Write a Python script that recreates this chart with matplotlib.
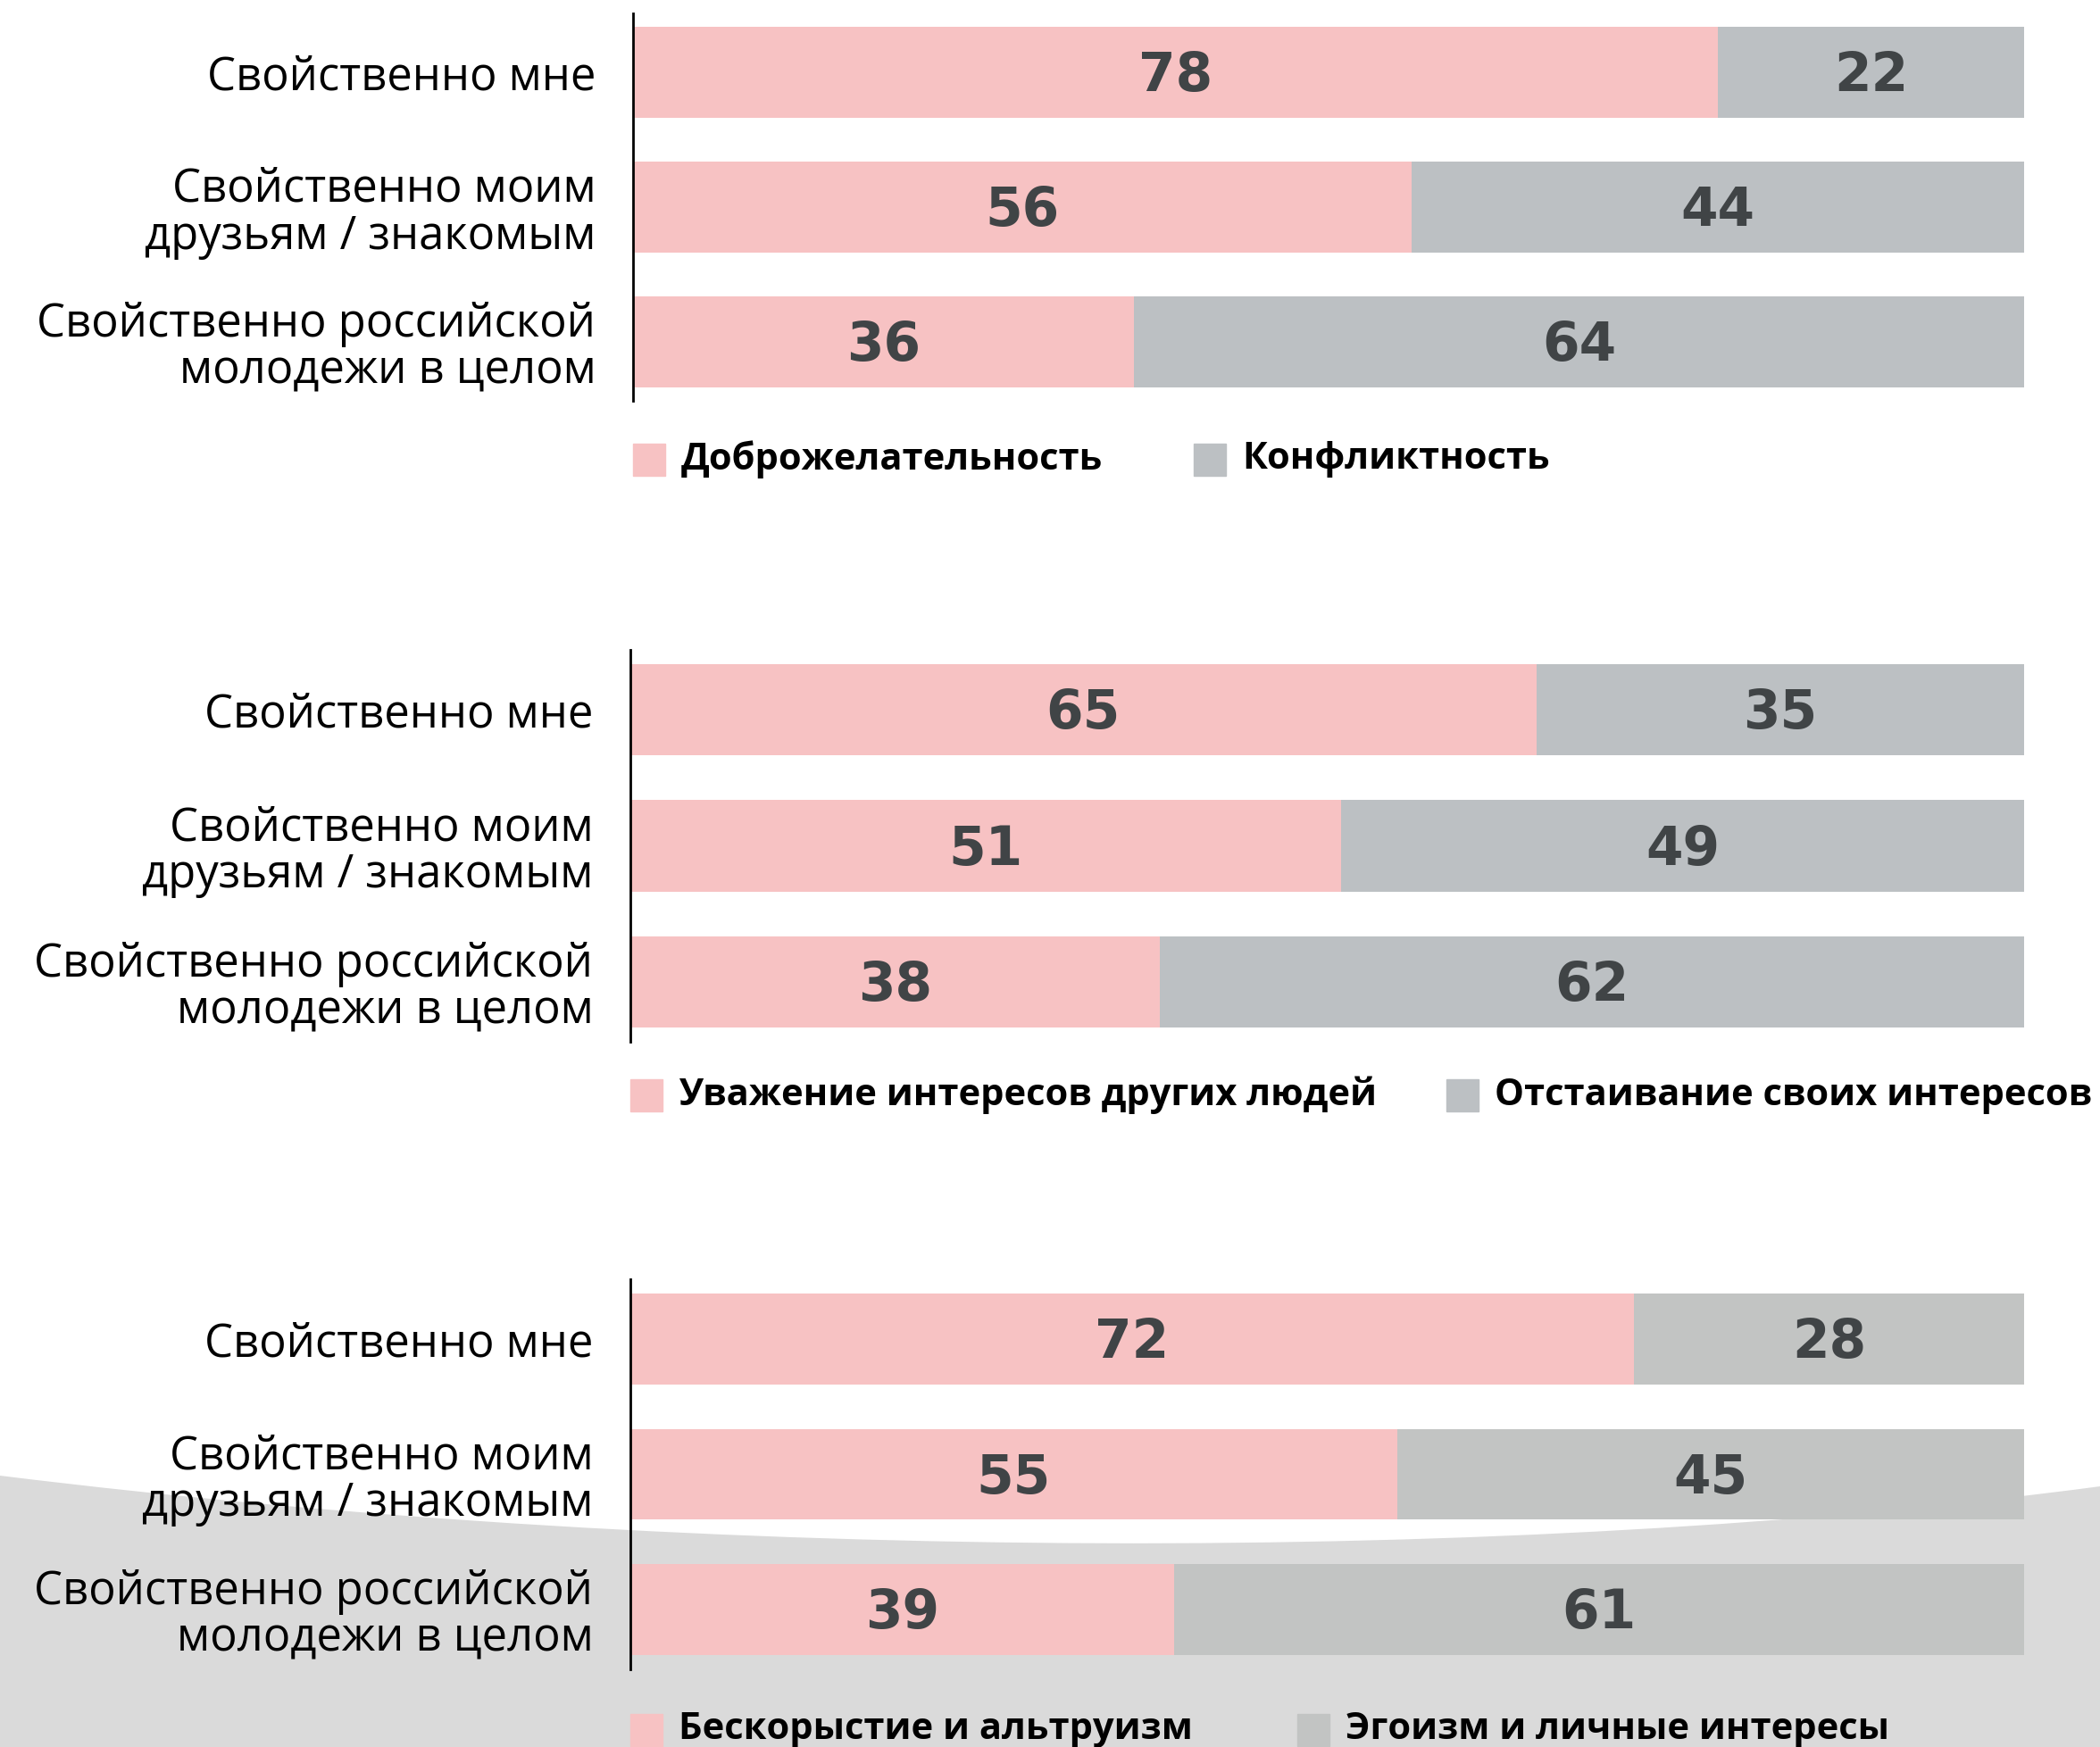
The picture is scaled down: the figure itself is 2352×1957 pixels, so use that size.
import matplotlib.pyplot as plt
from matplotlib.patches import Rectangle, PathPatch
from matplotlib.path import Path

# данные
categories = ["Свойственно мне", "Свойственно моим\nдрузьям / знакомым",
              "Свойственно российской\nмолодежи в целом"]
kind_vals = [78, 56, 36]
conflict_vals = [22, 44, 64]
respect_vals = [65, 51, 38]
own_vals = [35, 49, 62]
altruism_vals = [72, 55, 39]
egoism_vals = [28, 45, 61]

legend1 = ["Доброжелательность", "Конфликтность"]
legend2 = ["Уважение интересов других людей", "Отстаивание своих интересов"]
legend3 = ["Бескорыстие и альтруизм", "Эгоизм и личные интересы"]

pink = "#f7c2c3"
grey_top = "#bcc0c3"
grey_bot = "#c2c4c3"
num_color = "#404446"

W, H = 2352, 1957
fig = plt.figure(figsize=(W / 100, H / 100), dpi=100)

# фоновая дуга снизу (на отдельной оси позади всего)
bg = fig.add_axes([0, 0, 1, 1], zorder=-1)
bg.set_xlim(0, W)
bg.set_ylim(H, 0)
bg.axis("off")
verts = [(0, 1653), (800, 1752), (1700, 1752), (2352, 1665),
         (2352, H), (0, H), (0, 1653)]
codes = [Path.MOVETO, Path.CURVE4, Path.CURVE4, Path.CURVE4,
         Path.LINETO, Path.LINETO, Path.CLOSEPOLY]
bg.add_patch(PathPatch(Path(verts, codes), facecolor="#dadada", edgecolor="none"))


def panel(x0, centers, first, second, legend, grey, leg_y, leg_x2):
    x1 = 2267
    step = (centers[2] - centers[0]) / 2
    top = centers[0] - 0.44 * step
    bot = centers[2] + 0.44 * step
    ax = fig.add_axes([x0 / W, 1 - bot / H, (x1 - x0) / W, (bot - top) / H])
    ax.patch.set_alpha(0)
    y = range(len(categories))
    ax.barh(y, first, height=0.67, color=pink)
    ax.barh(y, second, left=first, height=0.67, color=grey)
    for i, (a, b) in enumerate(zip(first, second)):
        ax.text(a / 2, i + 0.03, str(a), ha="center", va="center", fontsize=43,
                fontweight="bold", color=num_color, family="DejaVu Sans")
        ax.text(a + b / 2, i + 0.03, str(b), ha="center", va="center", fontsize=43,
                fontweight="bold", color=num_color, family="DejaVu Sans")
    ax.set_xlim(0, 100)
    ax.set_ylim(2.44, -0.44)
    ax.set_yticks(list(y))
    ax.set_yticklabels(categories, fontsize=36.5, family="Open Sans",
                       ha="right", linespacing=1.05)
    ax.tick_params(axis="y", length=0, pad=30)
    ax.set_xticks([])
    for s in ["top", "right", "bottom"]:
        ax.spines[s].set_visible(False)
    ax.spines["left"].set_linewidth(2)

    # легенда
    sq = 36
    for xx, col, lab in [(x0, pink, legend[0]), (leg_x2, grey, legend[1])]:
        fig.patches.append(Rectangle((xx / W, 1 - (leg_y + sq) / H), sq / W, sq / H,
                                     transform=fig.transFigure, color=col))
        fig.text((xx + 54) / W, 1 - (leg_y + sq / 2) / H, lab, fontsize=30,
                 fontweight="bold", family="Open Sans", va="center", ha="left")


panel(709, [81, 232, 383], kind_vals, conflict_vals, legend1, grey_top, 497, 1337)
panel(706, [795, 948, 1100], respect_vals, own_vals, legend2, grey_top, 1209, 1620)
panel(706, [1500, 1652, 1803], altruism_vals, egoism_vals, legend3, grey_bot, 1920, 1453)

fig.savefig("out.png", dpi=100)
